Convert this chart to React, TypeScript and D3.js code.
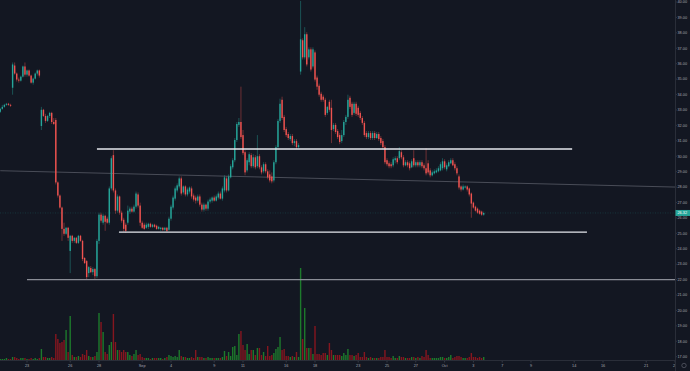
import React from 'react';
import * as d3 from 'd3';

// OHLC per hourly bar (7 bars per trading day)
const opens = [
  32.88, 33.07, 33.20, 33.33, 33.40, 33.33, 34.44, 35.88, 35.36, 34.97,
  34.90, 35.16, 35.82, 35.29, 35.56, 35.23, 34.77, 35.03, 35.36, 35.56,
  31.96, 33.01, 32.61, 32.29, 32.61, 32.81, 32.22, 32.35, 28.30, 27.45,
  26.67, 25.29, 24.97, 25.36, 23.86, 24.84, 24.51, 24.71, 24.38, 24.84,
  24.51, 23.40, 23.20, 22.42, 22.75, 22.48, 22.68, 22.22, 24.51, 26.21,
  25.69, 26.14, 25.95, 25.69, 27.91, 30.07, 27.78, 26.47, 27.39, 26.34,
  25.88, 25.56, 25.69, 26.41, 26.60, 26.41, 26.73, 27.52, 26.80, 25.69,
  25.56, 25.36, 25.42, 25.62, 25.42, 25.56, 25.49, 25.29, 25.29, 25.36,
  25.23, 25.36, 25.23, 25.95, 26.67, 27.25, 27.78, 28.04, 28.56, 27.65,
  28.04, 27.52, 27.71, 27.91, 27.45, 27.32, 27.12, 27.39, 26.86, 26.54,
  26.86, 26.60, 27.06, 27.12, 27.32, 27.12, 27.32, 27.58, 27.25, 27.78,
  28.56, 27.78, 28.63, 29.28, 29.74, 31.05, 32.03, 32.22, 31.37, 30.26,
  29.08, 29.61, 30.07, 29.35, 29.93, 29.35, 30.00, 29.28, 29.02, 29.48,
  29.02, 28.82, 28.69, 28.43, 29.61, 30.59, 32.29, 33.66, 32.55, 31.76,
  31.44, 31.11, 31.31, 30.85, 30.98, 30.59, 35.49, 37.52, 36.41, 37.91,
  36.41, 36.93, 35.82, 36.73, 35.10, 34.57, 34.05, 33.86, 33.66, 32.81,
  33.53, 33.14, 31.76, 32.03, 31.63, 31.37, 30.98, 31.37, 32.22, 32.55,
  33.79, 33.40, 32.81, 33.40, 33.14, 32.81, 32.48, 32.16, 31.50, 31.24,
  31.50, 31.18, 31.50, 31.18, 31.44, 31.18, 30.98, 30.59, 29.74, 29.54,
  29.48, 29.41, 29.74, 29.87, 29.87, 30.26, 29.93, 29.41, 29.61, 29.54,
  29.28, 29.87, 29.41, 29.61, 29.41, 29.61, 29.41, 29.22, 29.54, 29.08,
  28.76, 28.89, 28.95, 29.02, 29.08, 29.22, 29.67, 29.15, 29.35, 29.54,
  29.74, 29.48, 29.22, 28.69, 28.04, 27.84, 27.97, 28.04, 27.91, 27.58,
  26.99, 26.73, 26.60, 26.47, 26.41, 26.21,
];

const highs = [
  33.14, 33.33, 33.40, 33.46, 33.46, 33.40, 36.08, 36.08, 35.43, 35.10,
  35.23, 35.88, 36.08, 35.62, 35.62, 35.29, 35.10, 35.43, 35.62, 35.62,
  33.20, 33.07, 32.75, 32.68, 32.88, 32.88, 32.48, 32.48, 28.37, 27.52,
  26.73, 25.69, 25.42, 25.42, 24.90, 24.90, 24.77, 24.77, 24.90, 24.90,
  24.58, 23.46, 23.27, 22.88, 22.88, 22.81, 22.75, 24.64, 26.34, 26.34,
  26.27, 26.21, 26.08, 28.04, 30.00, 30.39, 27.91, 27.52, 27.45, 26.47,
  26.01, 25.69, 26.80, 26.73, 26.73, 26.86, 27.71, 27.65, 26.99, 25.82,
  25.69, 25.69, 25.69, 25.69, 25.62, 25.62, 25.56, 25.49, 25.42, 25.42,
  25.42, 25.42, 26.08, 26.86, 27.45, 28.04, 28.24, 28.69, 28.69, 28.11,
  28.11, 27.97, 28.04, 28.04, 27.58, 27.45, 27.52, 27.52, 26.99, 26.99,
  26.93, 27.19, 27.32, 27.39, 27.45, 27.52, 27.71, 27.71, 28.04, 28.76,
  28.69, 28.82, 29.48, 29.87, 31.18, 32.22, 32.48, 34.51, 31.70, 30.39,
  29.87, 30.26, 30.20, 30.13, 30.07, 31.37, 30.13, 29.41, 29.61, 29.61,
  29.15, 29.08, 28.95, 29.74, 30.72, 32.42, 33.73, 33.86, 32.68, 31.90,
  31.57, 31.44, 31.44, 31.11, 31.11, 30.85, 40.07, 37.65, 38.37, 38.04,
  37.06, 37.06, 37.06, 36.86, 35.23, 34.71, 34.18, 33.99, 33.79, 33.27,
  33.66, 33.66, 32.16, 32.16, 31.76, 31.50, 31.70, 32.35, 32.68, 33.99,
  33.92, 33.53, 33.53, 33.53, 33.27, 32.94, 32.61, 32.29, 31.63, 31.63,
  31.63, 31.63, 31.63, 31.57, 31.57, 31.31, 31.11, 30.72, 29.87, 29.67,
  29.61, 29.93, 30.00, 30.00, 30.59, 30.39, 30.07, 29.74, 29.74, 29.67,
  29.80, 30.39, 29.74, 29.74, 29.74, 29.74, 29.54, 30.52, 29.74, 29.22,
  29.08, 29.15, 29.22, 29.35, 29.61, 29.87, 29.80, 29.54, 29.74, 29.87,
  29.87, 29.61, 29.35, 28.82, 28.11, 28.17, 28.11, 28.11, 27.97, 27.65,
  27.06, 26.80, 26.67, 26.54, 26.47, 26.41,
];

const lows = [
  32.81, 33.01, 33.14, 33.27, 33.27, 33.20, 33.99, 35.29, 34.84, 34.77,
  34.84, 35.10, 35.16, 35.16, 35.16, 34.71, 34.64, 34.97, 35.23, 35.10,
  31.70, 32.55, 32.16, 32.22, 32.48, 32.09, 32.03, 28.17, 27.32, 26.60,
  24.51, 24.84, 24.90, 24.51, 22.42, 24.38, 24.38, 24.31, 24.31, 24.45,
  23.20, 23.01, 22.03, 22.16, 22.42, 22.29, 22.03, 22.09, 24.31, 25.69,
  25.56, 25.16, 25.62, 25.56, 27.78, 27.65, 26.27, 26.34, 26.21, 25.69,
  25.10, 25.03, 25.56, 26.27, 26.34, 26.34, 26.60, 26.67, 25.49, 25.29,
  25.23, 25.29, 25.29, 25.36, 25.36, 25.36, 25.23, 25.23, 25.16, 25.16,
  25.16, 25.10, 25.16, 25.82, 26.54, 27.12, 27.65, 27.91, 27.45, 27.52,
  27.39, 27.39, 27.58, 27.25, 27.06, 26.93, 26.99, 26.73, 26.41, 26.41,
  26.47, 26.47, 26.93, 26.99, 27.06, 27.06, 27.19, 27.19, 27.12, 27.65,
  27.65, 27.71, 28.56, 29.15, 29.61, 30.92, 31.90, 31.11, 30.07, 28.76,
  28.95, 29.41, 29.22, 29.22, 29.15, 29.22, 29.15, 28.82, 28.89, 28.89,
  28.50, 28.30, 28.24, 28.30, 29.48, 30.46, 32.16, 32.35, 31.57, 31.24,
  31.05, 30.98, 30.72, 30.65, 30.46, 30.52, 35.29, 36.27, 36.27, 35.82,
  36.27, 35.49, 35.69, 34.84, 34.31, 33.86, 33.53, 33.53, 32.55, 32.68,
  32.88, 30.85, 31.63, 31.44, 31.11, 30.78, 30.85, 31.24, 32.03, 32.42,
  33.07, 32.55, 32.68, 32.61, 32.55, 32.35, 32.03, 31.24, 31.11, 31.11,
  31.05, 31.05, 31.05, 31.11, 30.98, 30.72, 30.46, 29.48, 29.35, 29.22,
  29.22, 29.28, 29.54, 29.48, 29.74, 29.80, 29.28, 29.35, 29.28, 29.08,
  29.22, 29.28, 29.28, 29.28, 29.28, 29.22, 29.08, 28.76, 28.82, 28.63,
  28.69, 28.82, 28.89, 28.95, 29.02, 29.08, 29.15, 29.02, 29.28, 29.48,
  29.35, 29.08, 28.76, 27.84, 27.71, 27.78, 27.91, 27.71, 27.39, 26.01,
  26.60, 26.41, 26.27, 26.21, 26.14, 26.14,
];

const closes = [
  33.07, 33.20, 33.33, 33.40, 33.33, 33.27, 35.95, 35.36, 34.97, 34.90,
  35.16, 35.82, 35.29, 35.56, 35.23, 34.77, 35.03, 35.36, 35.56, 35.23,
  33.01, 32.61, 32.29, 32.61, 32.81, 32.22, 32.09, 28.30, 27.45, 26.67,
  25.29, 24.97, 25.36, 24.71, 24.84, 24.51, 24.71, 24.38, 24.84, 24.51,
  23.33, 23.07, 22.16, 22.81, 22.48, 22.68, 22.22, 24.51, 26.21, 25.82,
  26.14, 25.75, 25.69, 27.91, 29.87, 27.78, 26.47, 27.39, 26.34, 25.82,
  25.29, 25.16, 26.47, 26.60, 26.41, 26.73, 27.58, 26.80, 25.69, 25.36,
  25.29, 25.56, 25.62, 25.42, 25.56, 25.42, 25.29, 25.42, 25.36, 25.23,
  25.36, 25.16, 25.95, 26.73, 27.32, 27.91, 28.11, 28.56, 27.58, 28.04,
  27.52, 27.84, 27.97, 27.39, 27.19, 27.12, 27.39, 26.86, 26.54, 26.86,
  26.60, 27.06, 27.19, 27.32, 27.12, 27.39, 27.58, 27.25, 27.91, 28.63,
  27.78, 28.69, 29.35, 29.74, 31.05, 32.09, 32.22, 31.24, 30.20, 28.95,
  29.74, 30.13, 29.35, 29.93, 29.28, 30.00, 29.28, 28.95, 29.48, 29.02,
  28.63, 28.43, 28.37, 29.61, 30.59, 32.29, 33.40, 32.48, 31.70, 31.37,
  31.18, 31.31, 30.85, 30.98, 30.59, 30.72, 37.58, 36.41, 37.91, 35.95,
  36.93, 35.62, 36.93, 34.97, 34.51, 33.99, 33.66, 33.66, 32.68, 33.20,
  33.01, 31.70, 32.03, 31.57, 31.24, 30.92, 31.37, 32.22, 32.55, 33.66,
  33.20, 32.68, 33.40, 32.75, 32.68, 32.48, 32.16, 31.37, 31.24, 31.50,
  31.18, 31.50, 31.18, 31.44, 31.11, 30.85, 30.59, 29.61, 29.48, 29.35,
  29.35, 29.80, 29.87, 29.61, 30.33, 29.93, 29.41, 29.61, 29.41, 29.22,
  29.67, 29.41, 29.61, 29.41, 29.61, 29.35, 29.22, 28.89, 28.95, 28.76,
  28.95, 29.02, 29.08, 29.22, 29.48, 29.67, 29.28, 29.41, 29.61, 29.74,
  29.41, 29.22, 28.89, 27.97, 27.84, 28.04, 28.04, 27.84, 27.52, 26.93,
  26.67, 26.47, 26.34, 26.27, 26.21, 26.32,
];

const volumes = [
  1, 1, 1, 2, 1, 1, 3, 3, 2, 1,
  2, 2, 2, 1, 1, 2, 1, 2, 1, 2,
  11, 3, 3, 2, 2, 3, 2, 26, 21, 17,
  18, 20, 30, 8, 44, 5, 3, 3, 4, 3,
  6, 5, 10, 4, 3, 3, 4, 8, 47, 38,
  28, 8, 6, 15, 18, 46, 18, 10, 10, 8,
  10, 8, 8, 5, 4, 6, 10, 5, 6, 3,
  2, 2, 2, 1, 2, 2, 2, 2, 2, 1,
  2, 3, 5, 4, 3, 4, 3, 10, 4, 3,
  3, 2, 2, 3, 2, 10, 3, 3, 3, 2,
  2, 3, 2, 2, 2, 2, 2, 2, 3, 9,
  4, 8, 4, 13, 14, 5, 26, 29, 15, 10,
  16, 6, 10, 10, 5, 12, 12, 5, 8, 4,
  14, 4, 5, 7, 11, 13, 23, 10, 11, 4,
  4, 3, 4, 3, 8, 3, 92, 21, 52, 12,
  12, 12, 6, 34, 6, 6, 5, 7, 7, 5,
  17, 10, 5, 5, 5, 5, 4, 7, 5, 11,
  5, 5, 4, 5, 7, 3, 3, 8, 3, 2,
  3, 2, 2, 2, 2, 3, 3, 10, 3, 3,
  2, 4, 2, 2, 4, 3, 3, 2, 2, 2,
  3, 3, 2, 3, 2, 4, 3, 10, 5, 2,
  2, 2, 2, 2, 3, 3, 2, 2, 3, 5,
  2, 3, 4, 4, 3, 2, 2, 2, 3, 7,
  3, 3, 2, 3, 2, 3,
];

const priceTicks = [40, 39, 38, 37, 36, 35, 34, 33, 32, 31, 30, 29, 28, 27, 26, 25, 24, 23, 22, 21, 20, 19, 18, 17];
const timeLabels = ['23', '26', '28', 'Sep', '4', '9', '11', '16', '18', '23', '25', '27', 'Oct', '3', '7', '9', '14', '16', '21', '23'];
const timeDayOffsets = [0, 3, 5, 8, 10, 13, 15, 18, 20, 23, 25, 27, 29, 31, 33, 35, 38, 40, 43, 45];
const firstLabelBar = 13;
const barsPerDay = 7;

const levelPrices = [30.47, 25.08, 22.0];
const levelFromBar = [47, 57.7, 13];
const levelToBar = [278, 285.2, 328];

const trendBars = [0, 328];
const trendPrices = [29.06, 28.0];

const lastPrice = 26.32;

const UP = '#26a69a';
const DOWN = '#ef5350';
const VUP = '#1d7a2c';
const VDOWN = '#86161f';

export default function App() {
  const W = 690;
  const H = 371;
  const plotR = 675;
  const plotB = 360;
  const x = d3.scaleLinear().domain([0, 328]).range([0.26, 675]);
  const y = d3.scaleLinear().domain([17, 40]).range([356.7, 2]);
  const v = d3.scaleLinear().domain([0, 92]).range([360, 268]);
  const bw = 1.4;
  const font = "'Liberation Sans', Arial, sans-serif";

  const trendLine = d3
    .line<number>()
    .x((_, i) => x(trendBars[i]))
    .y((p) => y(p))(trendPrices) as string;

  return (
    <svg
      width={W}
      height={H}
      style={{ position: 'absolute', left: 0, top: 0, display: 'block' }}
      fontFamily={font}
    >
      <defs>
        <clipPath id="plotClip">
          <rect x={0} y={0} width={plotR} height={plotB} />
        </clipPath>
      </defs>
      <rect x={0} y={0} width={W} height={H} fill="#131722" />

      <g clipPath="url(#plotClip)">
        {volumes.map((vol, i) => {
          const up = closes[i] >= opens[i];
          return (
            <rect
              key={'v' + i}
              x={x(i) - bw / 2}
              y={v(vol)}
              width={bw}
              height={v(0) - v(vol)}
              fill={up ? VUP : VDOWN}
            />
          );
        })}

        <path d={trendLine} stroke="#4f525d" strokeWidth={0.9} fill="none" />
        <line
          x1={0}
          x2={plotR}
          y1={y(lastPrice)}
          y2={y(lastPrice)}
          stroke={UP}
          strokeOpacity={0.3}
          strokeWidth={0.7}
          strokeDasharray="1 1.5"
        />

        {closes.map((c, i) => {
          const o = opens[i];
          const up = c >= o;
          const col = up ? UP : DOWN;
          const top = y(Math.max(o, c));
          const bot = y(Math.min(o, c));
          return (
            <g key={'c' + i}>
              <line x1={x(i)} x2={x(i)} y1={y(highs[i])} y2={y(lows[i])} stroke={col} strokeWidth={0.6} strokeOpacity={0.7} />
              <rect x={x(i) - bw / 2} y={top} width={bw} height={Math.max(0.8, bot - top)} fill={col} />
            </g>
          );
        })}

        {levelPrices.map((p, i) => (
          <line
            key={'l' + i}
            x1={x(levelFromBar[i])}
            x2={x(levelToBar[i])}
            y1={y(p)}
            y2={y(p)}
            stroke={i === 2 ? '#8a8d96' : '#e6e8ee'}
            strokeWidth={i === 2 ? 1.1 : 1.4}
          />
        ))}
      </g>

      {/* time axis */}
      <line x1={0} x2={plotR} y1={plotB + 0.5} y2={plotB + 0.5} stroke="#2a2e39" strokeWidth={1} />
      {timeLabels.map((t, i) => {
        const bx = x(firstLabelBar + timeDayOffsets[i] * barsPerDay);
        return (
          <g key={'t' + i}>
            <line x1={bx} x2={bx} y1={plotB + 1} y2={plotB + 2.5} stroke="#4c525e" strokeWidth={0.6} />
            <text x={bx} y={367} fontSize={3.8} fill="#a3a6af" textAnchor="middle">
              {t}
            </text>
          </g>
        );
      })}

      {/* price axis */}
      <rect x={plotR} y={0} width={W - plotR} height={H} fill="#131722" />
      <line x1={plotR + 0.5} x2={plotR + 0.5} y1={0} y2={H} stroke="#2a2e39" strokeWidth={1} />
      {priceTicks.map((p) => (
        <g key={'p' + p}>
          <line x1={plotR + 1} x2={plotR + 2} y1={y(p)} y2={y(p)} stroke="#4c525e" strokeWidth={0.5} />
          <text x={677.5} y={y(p) + 1.3} fontSize={3.8} fill="#a3a6af">
            {p.toFixed(2)}
          </text>
        </g>
      ))}
      <rect x={plotR + 0.5} y={y(lastPrice) - 3} width={14.5} height={6} fill={UP} />
      <text x={677.5} y={y(lastPrice) + 1.3} fontSize={3.8} fill="#ffffff">
        {lastPrice.toFixed(2)}
      </text>
      <circle cx={684} cy={365.5} r={2.2} fill="none" stroke="#787b86" strokeWidth={0.5} />
    </svg>
  );
}
